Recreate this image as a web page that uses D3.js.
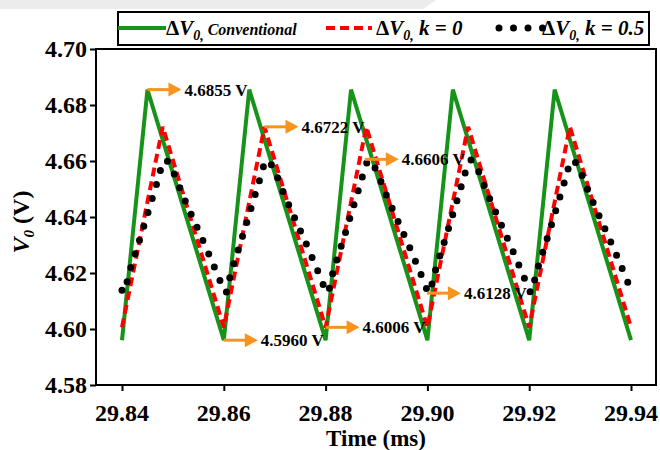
<!DOCTYPE html>
<html><head><meta charset="utf-8">
<script src="https://cdn.jsdelivr.net/npm/d3@7"></script>
<style>body{margin:0;background:#fff}svg{display:block}</style>
</head><body>
<script>
// ---- data ----
const greenT = [29.840, 29.845, 29.860, 29.865, 29.880, 29.885, 29.900, 29.905, 29.920, 29.925, 29.940];
const greenV = [4.5960, 4.6855, 4.5960, 4.6855, 4.5960, 4.6855, 4.5960, 4.6855, 4.5960, 4.6855, 4.5960];

const redT = [29.840, 29.848, 29.860, 29.868, 29.880, 29.888, 29.900, 29.908, 29.920, 29.928, 29.940];
const redV = [4.6006, 4.6722, 4.6006, 4.6722, 4.6006, 4.6722, 4.6006, 4.6722, 4.6006, 4.6722, 4.6006];

const blackT = [
  29.8400, 29.8404, 29.8412, 29.8440, 29.8470, 29.8480, 29.8486, 29.8494, 29.8520, 29.8570, 29.8593,
  29.8600, 29.8604, 29.8612, 29.8640, 29.8670, 29.8680, 29.8686, 29.8694, 29.8720, 29.8770, 29.8793,
  29.8800, 29.8804, 29.8812, 29.8840, 29.8870, 29.8880, 29.8886, 29.8894, 29.8920, 29.8970, 29.8993,
  29.9000, 29.9004, 29.9012, 29.9040, 29.9070, 29.9080, 29.9086, 29.9094, 29.9120, 29.9170, 29.9193,
  29.9200, 29.9204, 29.9212, 29.9240, 29.9270, 29.9280, 29.9286, 29.9294, 29.9320, 29.9370, 29.9393,
  29.9400
];
const blackV = [
  4.6138, 4.6130, 4.6185, 4.6350, 4.6530, 4.6590, 4.6604, 4.6585, 4.6475, 4.6270, 4.6170,
  4.6138, 4.6130, 4.6185, 4.6350, 4.6530, 4.6590, 4.6604, 4.6585, 4.6475, 4.6270, 4.6170,
  4.6138, 4.6130, 4.6185, 4.6350, 4.6530, 4.6590, 4.6604, 4.6585, 4.6475, 4.6270, 4.6170,
  4.6138, 4.6130, 4.6185, 4.6350, 4.6530, 4.6590, 4.6604, 4.6585, 4.6475, 4.6270, 4.6170,
  4.6138, 4.6130, 4.6185, 4.6350, 4.6530, 4.6590, 4.6604, 4.6585, 4.6475, 4.6270, 4.6170,
  4.6138
];

const xTicks = [29.84, 29.86, 29.88, 29.90, 29.92, 29.94];
const xTickLabels = ["29.84", "29.86", "29.88", "29.90", "29.92", "29.94"];
const yTicks = [4.58, 4.60, 4.62, 4.64, 4.66, 4.68, 4.70];
const yTickLabels = ["4.58", "4.60", "4.62", "4.64", "4.66", "4.68", "4.70"];

const annoLabels = ["4.6855 V", "4.6722 V", "4.6606 V", "4.5960 V", "4.6006 V", "4.6128 V"];
const annoT = [29.845, 29.868, 29.8877, 29.860, 29.880, 29.8999];
const annoV = [4.6855, 4.6722, 4.6606, 4.5960, 4.6006, 4.6128];

// ---- layout ----
const W = 660, H = 450;
const frame = {x0: 96, x1: 656, y0: 49, y1: 385};
const x = d3.scaleLinear().domain([29.84, 29.94]).range([122, 631]);
const y = d3.scaleLinear().domain([4.58, 4.70]).range([385, 49]);

const GREEN = "#17931a", RED = "#ff0000", ORANGE = "#f7931e";
const SERIF = "'Liberation Serif','Times New Roman',serif";

const svg = d3.select("body").append("svg").attr("width", W).attr("height", H);
svg.append("rect").attr("width", W).attr("height", H).attr("fill", "#fff");
// faint grey band at top (artifact of the screenshot)
svg.append("polygon").attr("points", "0,0 436,0 423,9 0,9").attr("fill", "#ececec");

// frame
svg.append("rect").attr("x", frame.x0).attr("y", frame.y0)
  .attr("width", frame.x1 - frame.x0).attr("height", frame.y1 - frame.y0)
  .attr("fill", "none").attr("stroke", "#000").attr("stroke-width", 2);

function sText(g, str, px, py, size, anchor, italic) {
  const t = g.append("text")
    .attr("x", px).attr("y", py)
    .attr("font-family", SERIF).attr("font-weight", "bold")
    .attr("font-size", size).attr("text-anchor", anchor || "start")
    .attr("fill", "#000");
  if (italic) t.attr("font-style", "italic");
  t.text(str);
  return t;
}

// y axis
const yAxisG = svg.append("g").attr("transform", `translate(${frame.x0},0)`)
  .call(d3.axisLeft(y).tickValues(yTicks).tickSize(6).tickFormat(""));
yAxisG.select(".domain").remove();
yAxisG.selectAll(".tick line").attr("stroke", "#000").attr("stroke-width", 2);
yTicks.forEach((v, i) => sText(svg, yTickLabels[i], frame.x0 - 9, y(v) + 8, 24, "end"));

// x axis
const xAxisG = svg.append("g").attr("transform", `translate(0,${frame.y1})`)
  .call(d3.axisBottom(x).tickValues(xTicks).tickSize(6).tickFormat(""));
xAxisG.select(".domain").remove();
xAxisG.selectAll(".tick line").attr("stroke", "#000").attr("stroke-width", 2);
xTicks.forEach((v, i) => sText(svg, xTickLabels[i], x(v), 421, 24, "middle"));

// axis titles
sText(svg, "Time (ms)", 376, 446, 23, "middle");
const yt = svg.append("text")
  .attr("transform", `translate(29,222) rotate(-90)`)
  .attr("font-family", SERIF).attr("font-weight", "bold").attr("font-size", 24)
  .attr("text-anchor", "middle");
yt.append("tspan").attr("font-style", "italic").text("V");
yt.append("tspan").attr("font-style", "italic").attr("font-size", 15).attr("dy", 5).text("0");
yt.append("tspan").attr("dy", -5).text(" (V)");

// series
const lineGen = d3.line().x(d => x(d[0])).y(d => y(d[1]));
const greenData = greenT.map((t, i) => [t, greenV[i]]);
const redData = redT.map((t, i) => [t, redV[i]]);
const blackData = blackT.map((t, i) => [t, blackV[i]]);

svg.append("path").attr("d", lineGen(greenData)).attr("fill", "none")
  .attr("stroke", GREEN).attr("stroke-width", 4).attr("stroke-linejoin", "miter");
svg.append("path").attr("d", lineGen(redData)).attr("fill", "none")
  .attr("stroke", RED).attr("stroke-width", 4).attr("stroke-dasharray", "9 5");
svg.append("path").attr("d", lineGen.curve(d3.curveMonotoneX)(blackData)).attr("fill", "none")
  .attr("stroke", "#000").attr("stroke-width", 7).attr("stroke-linecap", "round")
  .attr("stroke-dasharray", "0 14.5");

// annotations
const ARROW = 34;
annoLabels.forEach((lab, i) => {
  const ax = x(annoT[i]), ay = y(annoV[i]);
  svg.append("line").attr("x1", ax).attr("y1", ay).attr("x2", ax + ARROW - 12).attr("y2", ay)
    .attr("stroke", ORANGE).attr("stroke-width", 3);
  svg.append("polygon")
    .attr("points", `${ax + ARROW - 13},${ay - 7} ${ax + ARROW},${ay} ${ax + ARROW - 13},${ay + 7}`)
    .attr("fill", ORANGE);
  sText(svg, lab, ax + ARROW + 3, ay + 6, 17, "start");
});

// legend
const lg = svg.append("g");
lg.append("rect").attr("x", 118).attr("y", 12).attr("width", 531).attr("height", 33)
  .attr("fill", "#fff").attr("stroke", "#000").attr("stroke-width", 2);
const LY = 28;
lg.append("line").attr("x1", 118).attr("x2", 166).attr("y1", LY).attr("y2", LY)
  .attr("stroke", GREEN).attr("stroke-width", 4);
lg.append("line").attr("x1", 326).attr("x2", 372).attr("y1", LY).attr("y2", LY)
  .attr("stroke", RED).attr("stroke-width", 4).attr("stroke-dasharray", "9 5");
lg.append("line").attr("x1", 499).attr("x2", 544).attr("y1", LY).attr("y2", LY)
  .attr("stroke", "#000").attr("stroke-width", 7).attr("stroke-linecap", "round")
  .attr("stroke-dasharray", "0 14.5");

function legendText(px, rest, restSize) {
  const t = lg.append("text")
    .attr("x", px).attr("y", LY + 7)
    .attr("font-family", SERIF).attr("font-weight", "bold").attr("font-size", 21);
  t.append("tspan").text("\u0394");
  t.append("tspan").attr("font-style", "italic").text("V");
  t.append("tspan").attr("font-style", "italic").attr("font-size", 14).attr("dy", 5).text("0,");
  t.append("tspan").attr("dy", -5).attr("font-style", "italic").attr("font-size", restSize).text(rest);
}
legendText(166, " Conventional", 16);
legendText(376, " k = 0", 21);
legendText(542, " k = 0.5", 21);
</script>
</body></html>
